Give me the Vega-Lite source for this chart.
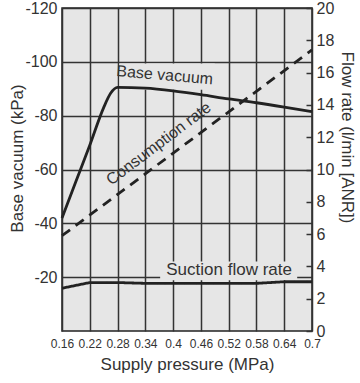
{
  "$schema": "https://vega.github.io/schema/vega-lite/v6.json",
  "width": 250,
  "height": 323,
  "autosize": {"type": "none"},
  "padding": {"left": 62, "top": 8, "right": 48, "bottom": 52},
  "background": "white",
  "config": {
    "view": {"fill": "#e6e6e6", "stroke": "#222", "strokeWidth": 1.5},
    "axis": {
      "labelFont": "Liberation Sans",
      "titleFont": "Liberation Sans",
      "labelColor": "#333",
      "titleColor": "#333",
      "titleFontWeight": "normal",
      "labelFontSize": 16,
      "titleFontSize": 17,
      "domain": false,
      "grid": true,
      "gridColor": "#333",
      "gridWidth": 1.5,
      "gridOpacity": 1,
      "labelOverlap": false
    },
    "axisX": {
      "values": [0.16, 0.22, 0.28, 0.34, 0.4, 0.46, 0.52, 0.58, 0.64, 0.7],
      "format": "~g",
      "title": "Supply pressure (MPa)",
      "ticks": false,
      "grid": true,
      "labelPadding": 7,
      "labelFontSize": 12,
      "labelFlush": false,
      "titlePadding": 7
    }
  },
  "datasets": {
    "curves": [
      {"series": "vac", "p": 0.16, "v": -42},
      {"series": "vac", "p": 0.19, "v": -55.5},
      {"series": "vac", "p": 0.22, "v": -69},
      {"series": "vac", "p": 0.25, "v": -83},
      {"series": "vac", "p": 0.265, "v": -88.3},
      {"series": "vac", "p": 0.28, "v": -90.5},
      {"series": "vac", "p": 0.34, "v": -90.2},
      {"series": "vac", "p": 0.4, "v": -89.2},
      {"series": "vac", "p": 0.46, "v": -87.8},
      {"series": "vac", "p": 0.52, "v": -86.2},
      {"series": "vac", "p": 0.58, "v": -84.8},
      {"series": "vac", "p": 0.64, "v": -83.2},
      {"series": "vac", "p": 0.7, "v": -81.5},
      {"series": "cons", "p": 0.16, "v": 5.9},
      {"series": "cons", "p": 0.7, "v": 17.4},
      {"series": "suc", "p": 0.16, "v": 2.65},
      {"series": "suc", "p": 0.22, "v": 3.0},
      {"series": "suc", "p": 0.28, "v": 3.0},
      {"series": "suc", "p": 0.34, "v": 2.95},
      {"series": "suc", "p": 0.4, "v": 2.95},
      {"series": "suc", "p": 0.46, "v": 2.95},
      {"series": "suc", "p": 0.52, "v": 2.95},
      {"series": "suc", "p": 0.58, "v": 2.95},
      {"series": "suc", "p": 0.64, "v": 3.05},
      {"series": "suc", "p": 0.7, "v": 3.05}
    ],
    "notes": [
      {"note": "Base vacuum"},
      {"note": "Consumption rate"},
      {"note": "Suction flow rate"}
    ]
  },
  "layer": [
    {
      "layer": [
        {
          "data": {"name": "curves"},
          "transform": [{"filter": "datum.series === 'vac'"}],
          "mark": {"type": "line", "color": "#222", "strokeWidth": 2.8, "interpolate": "monotone", "opacity": 0},
          "encoding": {
            "x": {
              "field": "p",
              "type": "quantitative",
              "scale": {"domain": [0.16, 0.7], "nice": false, "zero": false},
              "axis": {"title": "Supply pressure (MPa)", "grid": true, "values": [0.16, 0.22, 0.28, 0.34, 0.4, 0.46, 0.52, 0.58, 0.64, 0.7]}
            },
            "y": {
              "field": "v",
              "type": "quantitative",
              "scale": {"domain": [0, -120], "nice": false, "zero": false},
              "axis": {
                "values": [-120, -100, -80, -60, -40, -20],
                "labelExpr": "'' + datum.value",
                "title": "Base vacuum (kPa)",
                "grid": true,
                "ticks": false,
                "labelPadding": 5,
                "titleX": -36,
                "titleY": 150
              }
            }
          }
        },
        {
          "data": {"name": "notes"},
          "transform": [{"filter": "datum.note === 'Suction flow rate'"}],
          "mark": {"type": "rect", "fill": "#e6e6e6"},
          "encoding": {
            "x": {"datum": 0.372, "type": "quantitative", "axis": {"title": "Supply pressure (MPa)", "grid": true, "values": [0.16, 0.22, 0.28, 0.34, 0.4, 0.46, 0.52, 0.58, 0.64, 0.7]}},
            "x2": {"datum": 0.668},
            "y": {"datum": -25.8, "type": "quantitative"},
            "y2": {"datum": -18.9}
          }
        },
        {
          "data": {"name": "notes"},
          "transform": [{"filter": "datum.note === 'Base vacuum'"}],
          "mark": {"type": "rect", "fill": "#e6e6e6"},
          "encoding": {
            "x": {"datum": 0.284, "type": "quantitative", "axis": {"title": "Supply pressure (MPa)", "grid": true, "values": [0.16, 0.22, 0.28, 0.34, 0.4, 0.46, 0.52, 0.58, 0.64, 0.7]}},
            "x2": {"datum": 0.49},
            "y": {"datum": -99.4, "type": "quantitative"},
            "y2": {"datum": -89.6}
          }
        },
        {
          "data": {"name": "curves"},
          "transform": [{"filter": "datum.series === 'vac'"}],
          "mark": {"type": "line", "color": "#222", "strokeWidth": 2.8, "interpolate": "monotone"},
          "encoding": {
            "x": {"field": "p", "type": "quantitative", "axis": {"title": "Supply pressure (MPa)", "grid": true, "values": [0.16, 0.22, 0.28, 0.34, 0.4, 0.46, 0.52, 0.58, 0.64, 0.7]}},
            "y": {"field": "v", "type": "quantitative"}
          }
        },
        {
          "data": {"name": "notes"},
          "transform": [{"filter": "datum.note === 'Base vacuum'"}],
          "mark": {"type": "text", "font": "Liberation Sans", "fontSize": 16, "fill": "#333", "angle": 5, "align": "center", "baseline": "middle"},
          "encoding": {
            "text": {"field": "note"},
            "x": {"datum": 0.382, "type": "quantitative", "axis": {"title": "Supply pressure (MPa)", "grid": true, "values": [0.16, 0.22, 0.28, 0.34, 0.4, 0.46, 0.52, 0.58, 0.64, 0.7]}},
            "y": {"datum": -95, "type": "quantitative"}
          }
        },
        {
          "data": {"name": "notes"},
          "transform": [{"filter": "datum.note === 'Consumption rate'"}],
          "mark": {"type": "text", "font": "Liberation Sans", "fontSize": 16, "fill": "#333", "angle": -37, "align": "center", "baseline": "middle"},
          "encoding": {
            "text": {"field": "note"},
            "x": {"datum": 0.369, "type": "quantitative", "axis": {"title": "Supply pressure (MPa)", "grid": true, "values": [0.16, 0.22, 0.28, 0.34, 0.4, 0.46, 0.52, 0.58, 0.64, 0.7]}},
            "y": {"datum": -69.6, "type": "quantitative"}
          }
        },
        {
          "data": {"name": "notes"},
          "transform": [{"filter": "datum.note === 'Suction flow rate'"}],
          "mark": {"type": "text", "font": "Liberation Sans", "fontSize": 17, "fill": "#333", "align": "center", "baseline": "middle"},
          "encoding": {
            "text": {"field": "note"},
            "x": {"datum": 0.521, "type": "quantitative", "axis": {"title": "Supply pressure (MPa)", "grid": true, "values": [0.16, 0.22, 0.28, 0.34, 0.4, 0.46, 0.52, 0.58, 0.64, 0.7]}},
            "y": {"datum": -22.5, "type": "quantitative"}
          }
        }
      ]
    },
    {
      "data": {"name": "curves"},
      "transform": [{"filter": "datum.series !== 'vac'"}],
      "mark": {"type": "line", "color": "#222", "strokeWidth": 2.8},
      "encoding": {
        "x": {
          "field": "p",
          "type": "quantitative",
          "scale": {"domain": [0.16, 0.7], "nice": false, "zero": false},
          "axis": {"title": "Supply pressure (MPa)", "grid": true, "values": [0.16, 0.22, 0.28, 0.34, 0.4, 0.46, 0.52, 0.58, 0.64, 0.7]}
        },
        "y": {
          "field": "v",
          "type": "quantitative",
          "scale": {"domain": [0, 20], "nice": false, "zero": false},
          "axis": {
            "orient": "right",
            "values": [0, 2, 4, 6, 8, 10, 12, 14, 16, 18, 20],
            "grid": false,
            "ticks": true,
            "tickSize": -6,
            "tickColor": "#333",
            "tickWidth": 1.5,
            "labelPadding": 10,
            "labelOverlap": false,
            "title": "Flow rate (l/min [ANR])",
            "titlePadding": 4,
            "titleY": 129
          }
        },
        "strokeDash": {
          "field": "series",
          "type": "nominal",
          "scale": {"domain": ["cons", "suc"], "range": [[10, 7], [1, 0]]},
          "legend": null
        }
      }
    }
  ],
  "resolve": {"scale": {"y": "independent"}}
}
